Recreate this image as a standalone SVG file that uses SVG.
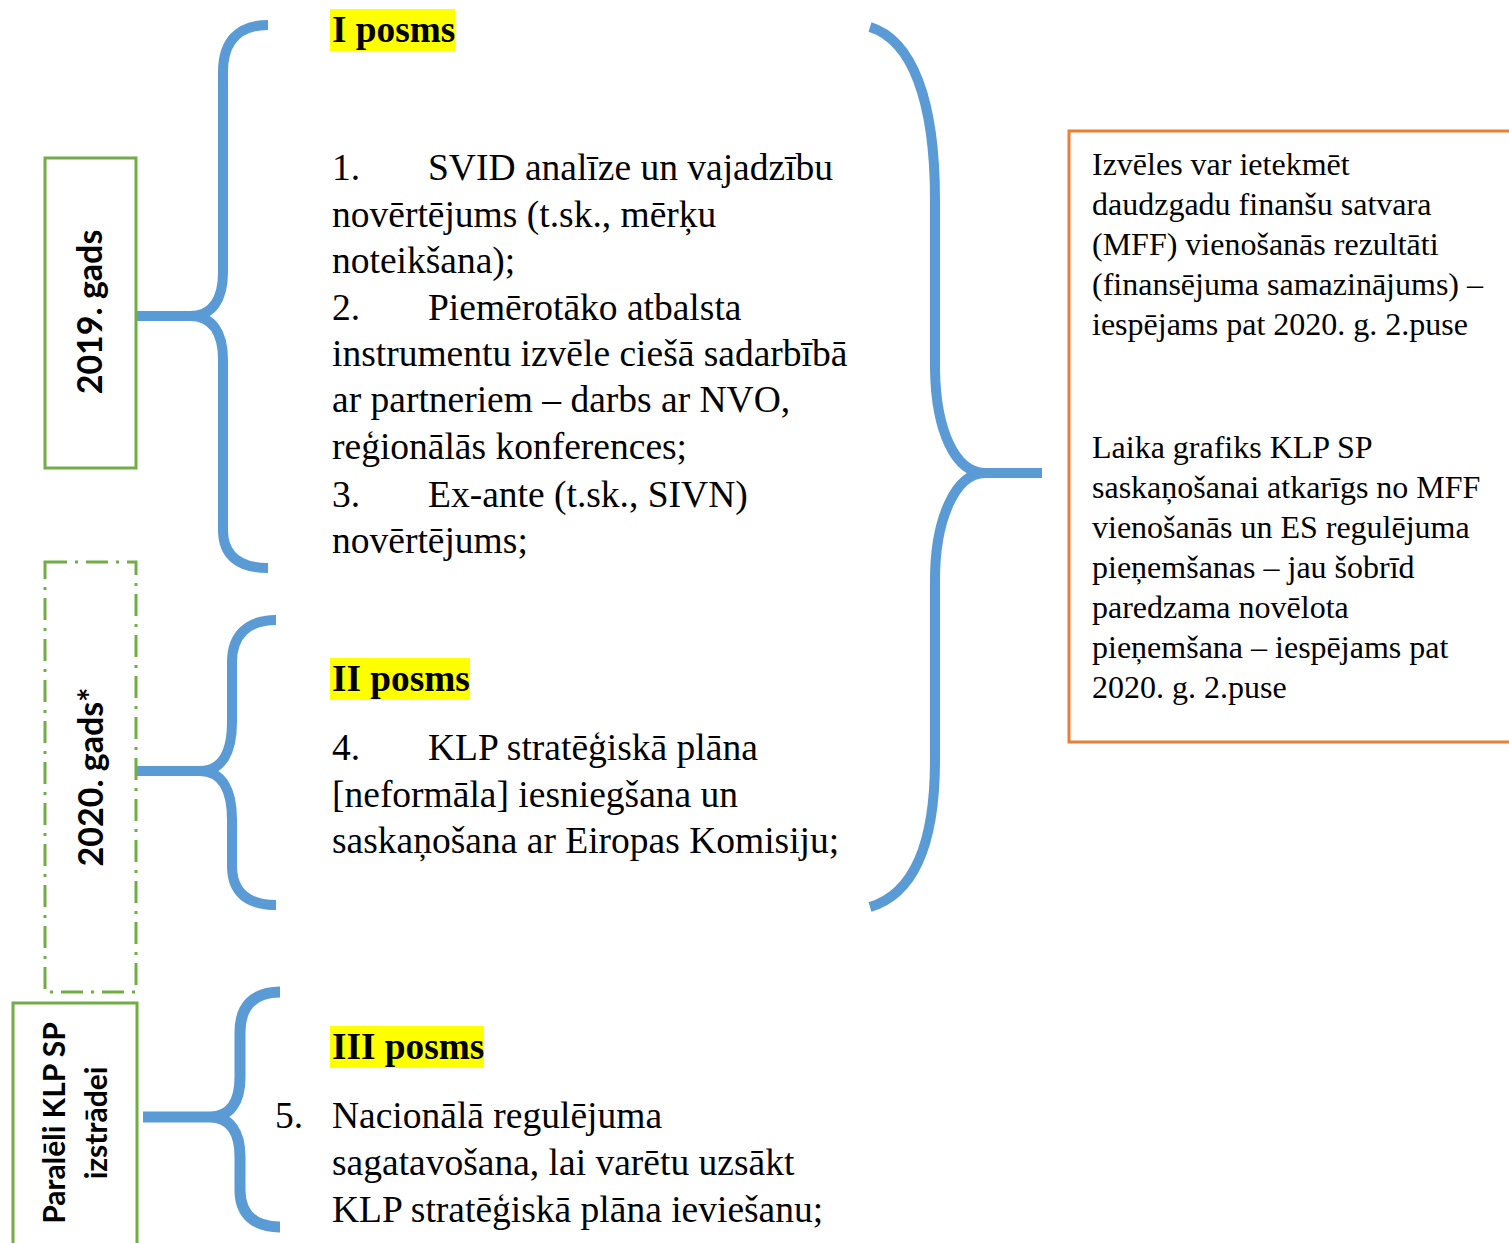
<svg xmlns="http://www.w3.org/2000/svg" width="1509" height="1243" viewBox="0 0 1509 1243">
<style>
.box{fill:#fff;stroke:#70AD47;stroke-width:3}
.dash{stroke-dasharray:22 8 3 8}
.obox{fill:#fff;stroke:#ED7D31;stroke-width:3}
.brace{fill:none;stroke:#5B9BD5;stroke-width:10}
.lbl{font-family:Lato,"Open Sans","Liberation Sans",sans-serif;font-weight:bold;font-size:34px;fill:#000}
.t{font-family:"Liberation Serif","Times New Roman",serif;font-size:37.5px;fill:#000}
.h{font-family:"Liberation Serif","Times New Roman",serif;font-size:37.3px;font-weight:bold;fill:#000}
.r{font-family:"Liberation Serif","Times New Roman",serif;font-size:32px;fill:#000}
.hl{fill:#FFFF00}
</style>
<rect width="1509" height="1243" fill="#fff"/>

<g id="connectors">
<path class="brace" d="M137,316 L192,316 M268,25 C238,25 223,42 223,72 L223,272 C223,300 212,316 190,316 C212,316 223,332 223,360 L223,530 C223,555 238,568 268,568"/>
<path class="brace" d="M137,771 L202,771 M276,620 C248,620 232,635 232,662 L232,722 C232,752 222,771 200,771 C222,771 232,790 232,820 L232,866 C232,893 248,905 276,905"/>
<path class="brace" style="stroke-width:11" d="M143,1117 L212,1117 M280,992 C254,992 240,1006 240,1032 L240,1077 C240,1102 230,1117 210,1117 C230,1117 240,1132 240,1157 L240,1190 C240,1214 254,1227 280,1227"/>
<path class="brace" d="M983,473 L1042,473 M870,27 C912,40 935,100 935,200 L935,370 C936,430 955,473 985,473 C955,473 935,520 935,580 L935,760 C935,850 910,895 870,907"/>
</g>

<g id="box-2019">
<rect class="box" x="45" y="158" width="91" height="310"/>
<text class="lbl" transform="translate(102,312) rotate(-90)" text-anchor="middle">2019. gads</text>
</g>

<g id="box-2020">
<rect class="box dash" x="45" y="562" width="91" height="430"/>
<text class="lbl" transform="translate(103,777) rotate(-90)" text-anchor="middle">2020. gads*</text>
</g>

<g id="box-paraleli">
<rect class="box" x="13" y="1003" width="124" height="260"/>
<text class="lbl" style="font-size:30px" transform="translate(65,1123) rotate(-90)" text-anchor="middle">Paralēli KLP SP<tspan x="0" dy="42">izstrādei</tspan></text>
</g>

<g id="stage-1">
<rect class="hl" x="330" y="9" width="125" height="42"/>
<text class="h" x="332" y="42">I posms</text>
<text class="t" x="332" y="180">1.</text>
<text class="t" x="428" y="180">SVID analīze un vajadzību</text>
<text class="t" x="332" y="227">novērtējums (t.sk., mērķu</text>
<text class="t" x="332" y="273">noteikšana);</text>
<text class="t" x="332" y="320">2.</text>
<text class="t" x="428" y="320">Piemērotāko atbalsta</text>
<text class="t" x="332" y="366">instrumentu izvēle ciešā sadarbībā</text>
<text class="t" x="332" y="412">ar partneriem – darbs ar NVO,</text>
<text class="t" x="332" y="459">reģionālās konferences;</text>
<text class="t" x="332" y="507">3.</text>
<text class="t" x="428" y="507">Ex-ante (t.sk., SIVN)</text>
<text class="t" x="332" y="553">novērtējums;</text>
</g>

<g id="stage-2">
<rect class="hl" x="330" y="658" width="140" height="42"/>
<text class="h" x="332" y="691">II posms</text>
<text class="t" x="332" y="760">4.</text>
<text class="t" x="428" y="760">KLP stratēģiskā plāna</text>
<text class="t" x="332" y="807">[neformāla] iesniegšana un</text>
<text class="t" x="332" y="853">saskaņošana ar Eiropas Komisiju;</text>
</g>

<g id="stage-3">
<rect class="hl" x="330" y="1026" width="154" height="42"/>
<text class="h" x="332" y="1059">III posms</text>
<text class="t" x="275" y="1128">5.</text>
<text class="t" x="332" y="1128">Nacionālā regulējuma</text>
<text class="t" x="332" y="1175">sagatavošana, lai varētu uzsākt</text>
<text class="t" x="332" y="1222">KLP stratēģiskā plāna ieviešanu;</text>
</g>

<g id="note">
<rect class="obox" x="1069" y="131" width="460" height="611"/>
<text class="r" x="1092" y="175">Izvēles var ietekmēt</text>
<text class="r" x="1092" y="215">daudzgadu finanšu satvara</text>
<text class="r" x="1092" y="255">(MFF) vienošanās rezultāti</text>
<text class="r" x="1092" y="295">(finansējuma samazinājums) –</text>
<text class="r" x="1092" y="335">iespējams pat 2020. g. 2.puse</text>
<text class="r" x="1092" y="458">Laika grafiks KLP SP</text>
<text class="r" x="1092" y="498">saskaņošanai atkarīgs no MFF</text>
<text class="r" x="1092" y="538">vienošanās un ES regulējuma</text>
<text class="r" x="1092" y="578">pieņemšanas – jau šobrīd</text>
<text class="r" x="1092" y="618">paredzama novēlota</text>
<text class="r" x="1092" y="658">pieņemšana – iespējams pat</text>
<text class="r" x="1092" y="698">2020. g. 2.puse</text>
</g>
</svg>
